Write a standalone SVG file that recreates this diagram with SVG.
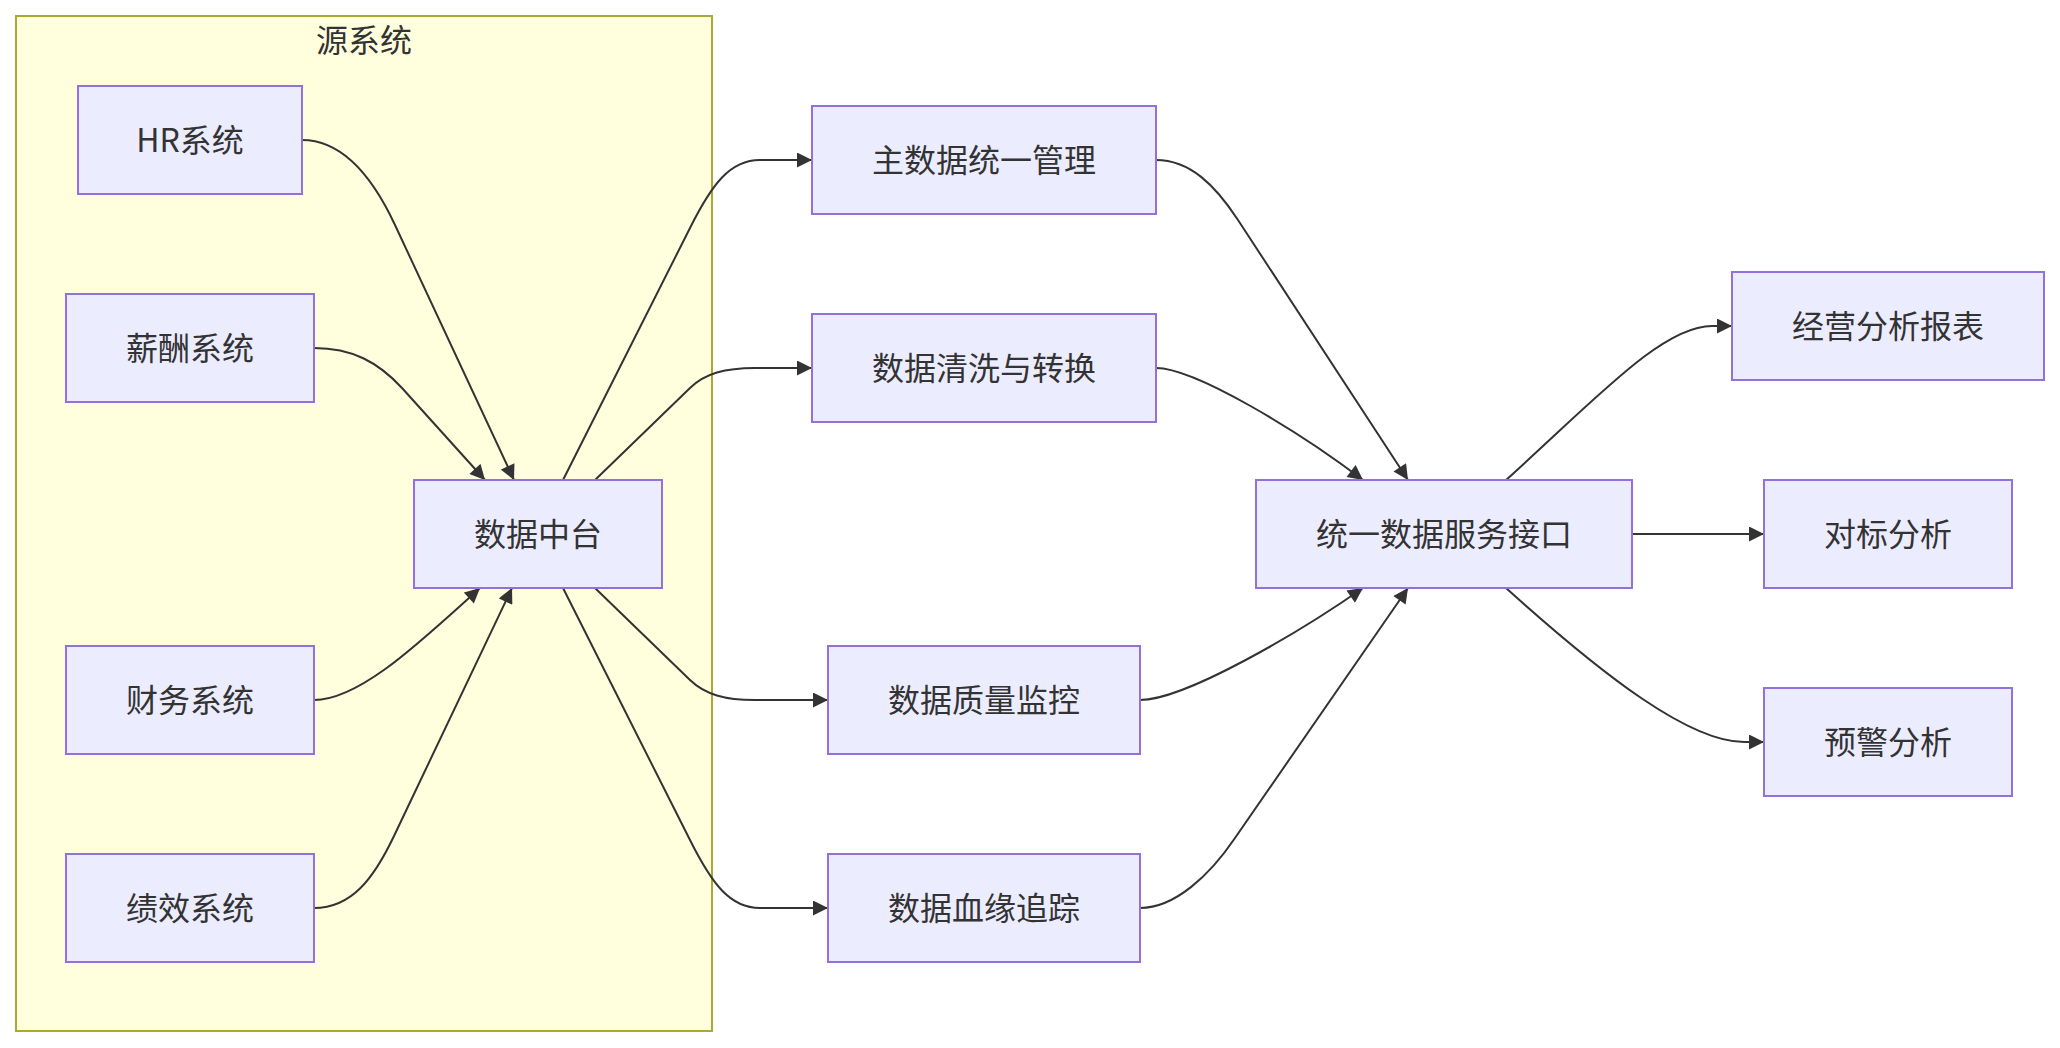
<svg xmlns="http://www.w3.org/2000/svg" width="2060" height="1048" viewBox="0 0 2060 1048">
<style>
.cluster{fill:#ffffde;stroke:#aaaa33;stroke-width:2}
.node rect{fill:#ECECFF;stroke:#9370DB;stroke-width:2}
text{font-family:"Noto Sans CJK SC","Noto Sans",sans-serif;font-size:32px;fill:#333333;text-anchor:middle;dominant-baseline:central}
.edge{fill:none;stroke:#333333;stroke-width:2}
</style>
<defs>
<marker id="arrow" viewBox="0 0 10 10" refX="10" refY="5" markerWidth="16" markerHeight="15" markerUnits="userSpaceOnUse" orient="auto">
<path d="M0,0 L10,5 L0,10 z" fill="#333333"/>
</marker>
</defs>
<rect fill="#ffffff" x="0" y="0" width="2060" height="1048"/>
<g id="cluster-source">
<rect class="cluster" x="16" y="16" width="696" height="1015"/>
<text x="364" y="37.5">源系统</text>
</g>
<g id="connectors">
<path class="edge" marker-end="url(#arrow)" d="M302,140 C345,140 374,180 395,225 L514,480"/>
<path class="edge" marker-end="url(#arrow)" d="M314,348 C352,348 378,362 402,388 L485,480"/>
<path class="edge" marker-end="url(#arrow)" d="M314,700 C360,700 420,642 480,588"/>
<path class="edge" marker-end="url(#arrow)" d="M314,908 C352,908 374,878 394,836 L512,588"/>
<path class="edge" marker-end="url(#arrow)" d="M563,480 L690,228 C712,184 730,160 760,160 L812,160"/>
<path class="edge" marker-end="url(#arrow)" d="M595,480 L690,388 C705,373.5 725,368 755,368 L812,368"/>
<path class="edge" marker-end="url(#arrow)" d="M595,588 L690,680 C705,694.5 725,700 755,700 L828,700"/>
<path class="edge" marker-end="url(#arrow)" d="M563,588 L690,840 C712,884 730,908 760,908 L828,908"/>
<path class="edge" marker-end="url(#arrow)" d="M1156,160 C1190,160 1215,185 1238,220 L1408,480"/>
<path class="edge" marker-end="url(#arrow)" d="M1156,368 C1195,368 1300,432 1363,480"/>
<path class="edge" marker-end="url(#arrow)" d="M1140,700 C1185,700 1300,632 1363,588"/>
<path class="edge" marker-end="url(#arrow)" d="M1140,908 C1175,908 1210,875 1235,838 L1408,588"/>
<path class="edge" marker-end="url(#arrow)" d="M1506,480 C1596,399 1662,326 1712,326 L1732,326"/>
<path class="edge" marker-end="url(#arrow)" d="M1632,534 L1764,534"/>
<path class="edge" marker-end="url(#arrow)" d="M1506,588 C1606,678 1690,742 1744,742 L1764,742"/>
</g>
<g id="node-hr" class="node"><rect x="78" y="86" width="224" height="108"/><text x="190" y="137.5">HR系统</text></g>
<g id="node-salary" class="node"><rect x="66" y="294" width="248" height="108"/><text x="190" y="345.5">薪酬系统</text></g>
<g id="node-finance" class="node"><rect x="66" y="646" width="248" height="108"/><text x="190" y="697.5">财务系统</text></g>
<g id="node-perf" class="node"><rect x="66" y="854" width="248" height="108"/><text x="190" y="905.5">绩效系统</text></g>
<g id="node-hub" class="node"><rect x="414" y="480" width="248" height="108"/><text x="538" y="531.5">数据中台</text></g>
<g id="node-mdm" class="node"><rect x="812" y="106" width="344" height="108"/><text x="984" y="157.5">主数据统一管理</text></g>
<g id="node-clean" class="node"><rect x="812" y="314" width="344" height="108"/><text x="984" y="365.5">数据清洗与转换</text></g>
<g id="node-quality" class="node"><rect x="828" y="646" width="312" height="108"/><text x="984" y="697.5">数据质量监控</text></g>
<g id="node-lineage" class="node"><rect x="828" y="854" width="312" height="108"/><text x="984" y="905.5">数据血缘追踪</text></g>
<g id="node-api" class="node"><rect x="1256" y="480" width="376" height="108"/><text x="1444" y="531.5">统一数据服务接口</text></g>
<g id="node-report" class="node"><rect x="1732" y="272" width="312" height="108"/><text x="1888" y="323.5">经营分析报表</text></g>
<g id="node-bench" class="node"><rect x="1764" y="480" width="248" height="108"/><text x="1888" y="531.5">对标分析</text></g>
<g id="node-alert" class="node"><rect x="1764" y="688" width="248" height="108"/><text x="1888" y="739.5">预警分析</text></g>
</svg>
